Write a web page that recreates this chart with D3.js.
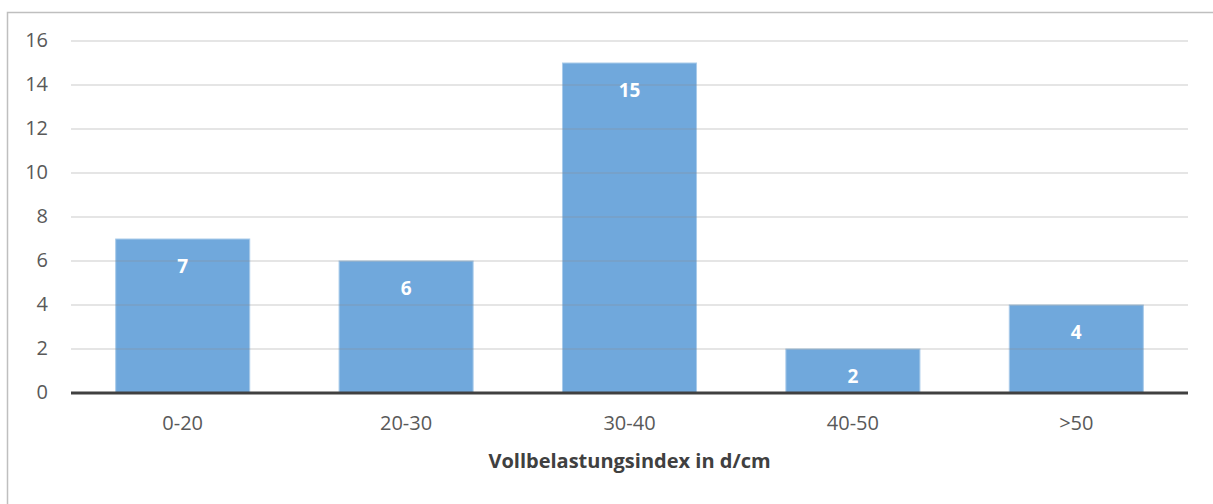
<!DOCTYPE html>
<html><head><meta charset="utf-8">
<script src="https://cdn.jsdelivr.net/npm/d3@7"></script>
<style>body{margin:0;background:#fff;}svg{display:block;}</style>
</head><body><svg id="c" width="1213" height="504"></svg>
<script>
const categories = ["0-20", "20-30", "30-40", "40-50", ">50"];
const values = [7, 6, 15, 2, 4];
const yTicks = [0, 2, 4, 6, 8, 10, 12, 14, 16];
const xTitle = "Vollbelastungsindex in d/cm";

const svg = d3.select("#c");
const font = "'Open Sans', 'Liberation Sans', sans-serif";
svg.append("rect").attr("x", 7.5).attr("y", 12.5).attr("width", 1220).attr("height", 500)
  .attr("fill", "#fff").attr("stroke", "#bfbfbf").attr("stroke-width", 1.5);

const m = {l: 71, r: 1188, t: 41, b: 393};
const x = d3.scaleBand().domain(categories).range([m.l, m.r]).paddingInner(0.4).paddingOuter(0.2);
const y = d3.scaleLinear().domain([0, 16]).range([m.b, m.t]);

// bars
svg.selectAll("rect.bar").data(values).join("rect").attr("class", "bar")
  .attr("x", (d, i) => x(categories[i])).attr("width", x.bandwidth())
  .attr("y", d => y(d)).attr("height", d => y(0) - y(d))
  .attr("fill", "#70a8dc").attr("stroke", "#a9cbea").attr("stroke-width", 1);

// gridlines on top (semi-transparent)
svg.selectAll("line.grid").data(yTicks.filter(t => t > 0)).join("line").attr("class", "grid")
  .attr("x1", m.l).attr("x2", m.r).attr("y1", d => y(d)).attr("y2", d => y(d))
  .attr("stroke", "#8c8c8c").attr("stroke-opacity", 0.3).attr("stroke-width", 1.3);

// baseline
svg.append("line").attr("x1", m.l).attr("x2", m.r).attr("y1", y(0)).attr("y2", y(0))
  .attr("stroke", "#404040").attr("stroke-width", 3);

// y tick labels
svg.selectAll("text.yt").data(yTicks).join("text").attr("class", "yt")
  .attr("x", 48).attr("y", d => y(d) - 1).attr("dy", "0.35em").attr("text-anchor", "end")
  .attr("font-family", font).attr("font-size", 20).attr("fill", "#595959").text(d => d);

// x tick labels
svg.selectAll("text.xt").data(categories).join("text").attr("class", "xt")
  .attr("x", d => x(d) + x.bandwidth() / 2).attr("y", 423).attr("dy", "0.35em").attr("text-anchor", "middle")
  .attr("font-family", font).attr("font-size", 20).attr("fill", "#595959").text(d => d);

// value labels
svg.selectAll("text.vl").data(values).join("text").attr("class", "vl")
  .attr("x", (d, i) => x(categories[i]) + x.bandwidth() / 2).attr("y", d => y(d) + 27).attr("dy", "0.35em")
  .attr("text-anchor", "middle").attr("font-family", font).attr("font-size", 19).attr("font-weight", "bold")
  .attr("fill", "#fff").text(d => d);

// axis title
svg.append("text").attr("x", (m.l + m.r) / 2).attr("y", 461).attr("dy", "0.35em").attr("text-anchor", "middle")
  .attr("font-family", font).attr("font-size", 20).attr("font-weight", "bold").attr("fill", "#404040").text(xTitle);
</script></body></html>
